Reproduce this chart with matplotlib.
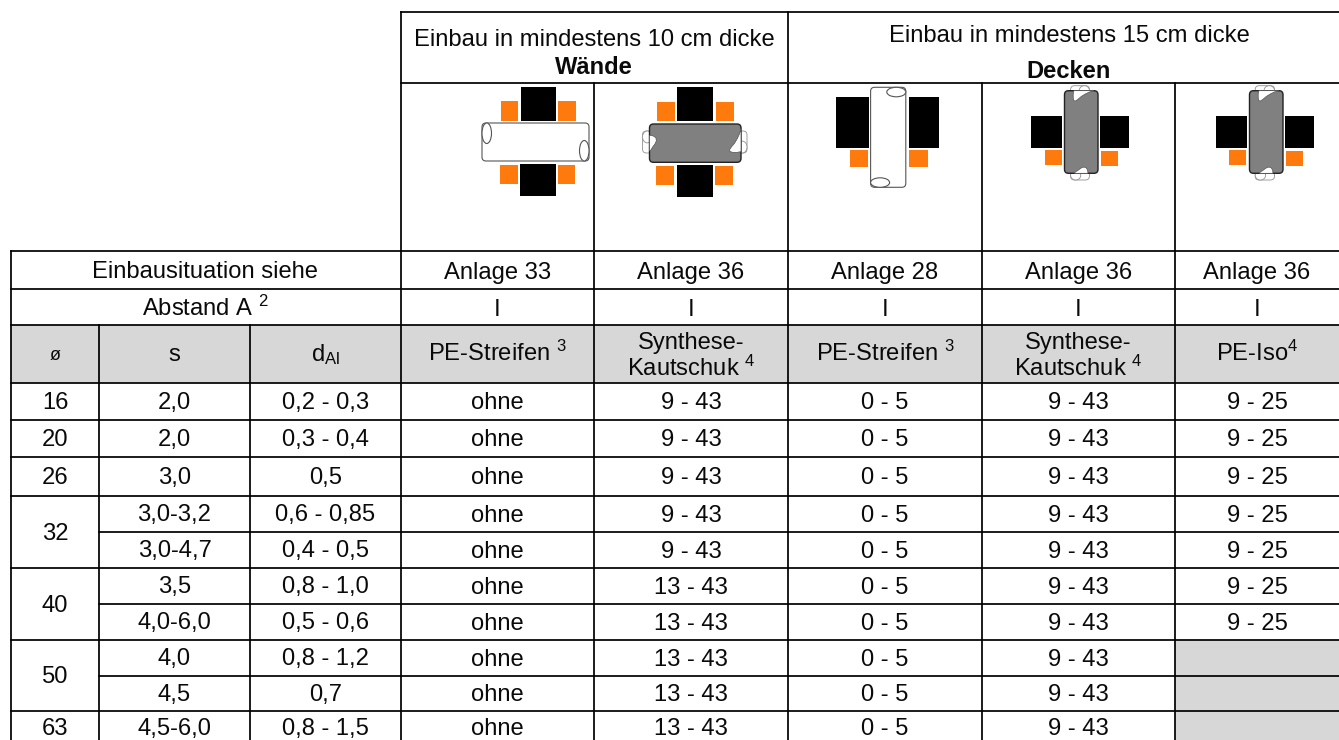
import matplotlib
matplotlib.use("Agg")
import matplotlib.pyplot as plt
from matplotlib.patches import Rectangle, Polygon, Ellipse, FancyBboxPatch

plt.rcParams['font.family'] = ['Liberation Sans', 'DejaVu Sans']
plt.rcParams['mathtext.fontset'] = 'custom'
plt.rcParams['mathtext.rm'] = 'Liberation Sans'
plt.rcParams['mathtext.default'] = 'regular'

# table content
diameters = ["16", "20", "26", "32", "40", "50", "63"]
diameter_spans = [1, 1, 1, 2, 2, 2, 1]
s_values = ["2,0", "2,0", "3,0", "3,0-3,2", "3,0-4,7", "3,5", "4,0-6,0", "4,0", "4,5", "4,5-6,0"]
d_al_values = ["0,2 - 0,3", "0,3 - 0,4", "0,5", "0,6 - 0,85", "0,4 - 0,5", "0,8 - 1,0",
               "0,5 - 0,6", "0,8 - 1,2", "0,7", "0,8 - 1,5"]
pe_wand = ["ohne"] * 10
kautschuk_wand = ["9 - 43"] * 5 + ["13 - 43"] * 5
pe_decke = ["0 - 5"] * 10
kautschuk_decke = ["9 - 43"] * 10
pe_iso = ["9 - 25"] * 7 + [""] * 3
anlagen = ["Anlage 33", "Anlage 36", "Anlage 28", "Anlage 36", "Anlage 36"]
abstand = ["I", "I", "I", "I", "I"]
col_heads = ["PE-Streifen $^{3}$", "Synthese-\nKautschuk $^{4}$", "PE-Streifen $^{3}$",
             "Synthese-\nKautschuk $^{4}$", "PE-Iso$^{4}$"]

# layout in pixels
col_x = [11, 99, 250, 401, 594, 788, 982, 1175, 1345]
row_y = [251, 289, 325, 383, 420, 457, 496, 532, 568, 604, 640, 676, 711, 748]
top_y, head_y = 12, 83
GREY = "#d7d7d7"
ORANGE = "#ff7a0d"
FS = 17.1

# notches in the grey sleeve as (along, across) fractions
BIG_BITE = [(1.0, 0.12), (0.985, 0.25), (0.96, 0.38), (0.93, 0.5), (0.895, 0.6), (0.875, 0.67),
            (0.88, 0.72), (0.91, 0.74), (0.96, 0.74), (1.0, 0.72)]
SMALL_BITE = [(0.0, 0.3), (0.04, 0.31), (0.07, 0.36), (0.075, 0.44), (0.06, 0.52), (0.035, 0.6),
              (0.015, 0.68), (0.0, 0.7)]

fig = plt.figure(figsize=(13.39, 7.4), dpi=100)
ax = fig.add_axes([0, 0, 1, 1])
ax.set_xlim(0, 1339)
ax.set_ylim(740, 0)
ax.axis("off")


def hline(y, x0, x1):
    ax.plot([x0, x1], [y, y], color="black", lw=1.25, solid_capstyle="projecting", zorder=5)


def vline(x, y0, y1):
    ax.plot([x, x], [y0, y1], color="black", lw=1.25, solid_capstyle="projecting", zorder=5)


def label(x, y, txt, **kw):
    kw.setdefault("fontsize", FS)
    ax.text(x, y, txt, ha="center", va="baseline", color="#0a0a0a", zorder=6, **kw)


def box(x0, y0, x1, y1, color):
    ax.add_patch(Rectangle((x0, y0), x1 - x0, y1 - y0, facecolor=color, edgecolor="none", zorder=2))


def rounded(x0, y0, x1, y1, r, fc, ec, lw, z):
    ax.add_patch(FancyBboxPatch((x0, y0), x1 - x0, y1 - y0, boxstyle=f"round,pad=0,rounding_size={r}",
                                facecolor=fc, edgecolor=ec, lw=lw, zorder=z))


def end_ellipses(x0, y0, x1, y1, vertical, ec, lw, z):
    # open tube ends: one half of each end shows the ellipse
    if vertical:
        w, h = (x1 - x0) * 0.54, min(9.5, (y1 - y0) * 0.1)
        first, second = (x1 - w / 2, y0 + h / 2), (x0 + w / 2, y1 - h / 2)
    else:
        w, h = min(9.5, (x1 - x0) * 0.1), (y1 - y0) * 0.54
        first, second = (x0 + w / 2, y0 + h / 2), (x1 - w / 2, y1 - h / 2)
    for c in (first, second):
        ax.add_patch(Ellipse(c, w, h, facecolor="white", edgecolor=ec, lw=lw, zorder=z))


def white_tube(x0, y0, x1, y1, vertical=False, ec="#555555", lw=0.8, z=3):
    rounded(x0, y0, x1, y1, 4, "white", ec, lw, z)
    end_ellipses(x0, y0, x1, y1, vertical, ec, lw, z)


def bite(x0, y0, x1, y1, pts, vertical, z):
    xy = []
    for a, b in pts:
        if vertical:
            xy.append((x0 + (1 - b) * (x1 - x0), y0 + (1 - a) * (y1 - y0)))
        else:
            xy.append((x0 + a * (x1 - x0), y0 + b * (y1 - y0)))
    ax.add_patch(Polygon(xy, closed=True, facecolor="white", edgecolor="#555555", lw=0.5, zorder=z, joinstyle="round"))


def grey_tube(sx0, sy0, sx1, sy1, wx0, wy0, wx1, wy1, vertical=False):
    white_tube(wx0, wy0, wx1, wy1, vertical, ec="#909090", lw=0.6, z=3)
    rounded(sx0, sy0, sx1, sy1, 4, "#808080", "#222222", 1.0, 4)
    bite(sx0, sy0, sx1, sy1, SMALL_BITE, vertical, 4.5)
    bite(sx0, sy0, sx1, sy1, BIG_BITE, vertical, 4.5)


# grey fills
box(col_x[0], row_y[2], col_x[-1], row_y[3], GREY)
box(col_x[7], row_y[10], col_x[-1], row_y[-1], GREY)

# grid
hline(top_y, col_x[3], col_x[-1])
hline(head_y, col_x[3], col_x[-1])
vline(col_x[3], top_y, row_y[-1])
vline(col_x[5], top_y, row_y[-1])
for x in [col_x[4], col_x[6], col_x[7]]:
    vline(x, head_y, row_y[-1])
vline(col_x[0], row_y[0], row_y[-1])
for x in col_x[1:3]:
    vline(x, row_y[2], row_y[-1])
for y in row_y[:4]:
    hline(y, col_x[0], col_x[-1])
n = 3
for span in diameter_spans:
    # the diameter column is merged over the rows of one size
    for k in range(1, span):
        hline(row_y[n + k], col_x[1], col_x[-1])
    n += span
    if n < len(row_y) - 1:
        hline(row_y[n], col_x[0], col_x[-1])

# head text
label(594, 46.5, "Einbau in mindestens 10 cm dicke")
label(594, 74, "Wände", fontweight="bold")
label(1069, 42.5, "Einbau in mindestens 15 cm dicke")
label(1069, 77.5, "Decken", fontweight="bold")

centers = [(col_x[i] + col_x[i + 1]) / 2 for i in range(3, 7)] + [1257]
mid = (col_x[0] + col_x[3]) / 2
label(mid - 1, 278.5, "Einbausituation siehe")
label(mid - 1, 316, "Abstand A $^{2}$")
for cx, a, b, h in zip(centers, anlagen, abstand, col_heads):
    label(cx, 278.5, a)
    label(cx, 316, b)
    if "\n" in h:
        h1, h2 = h.split("\n")
        label(cx, 349, h1)
        label(cx, 376, h2)
    else:
        label(cx, 361, h)

label((col_x[0] + col_x[1]) / 2, 360, "ø", fontsize=13)
label((col_x[1] + col_x[2]) / 2, 361, "s")
label((col_x[2] + col_x[3]) / 2, 361, "d$_{Al}$")


def base(i, span=1):
    if i + span == 10:
        return 735
    return (row_y[3 + i] + row_y[3 + i + span]) / 2 + 7.5


# body rows
n = 0
for d, span in zip(diameters, diameter_spans):
    label((col_x[0] + col_x[1]) / 2, base(n, span), d)
    n += span

columns = [s_values, d_al_values, pe_wand, kautschuk_wand, pe_decke, kautschuk_decke, pe_iso]
xs = [(col_x[1] + col_x[2]) / 2, (col_x[2] + col_x[3]) / 2] + centers
for cx, values in zip(xs, columns):
    for i, v in enumerate(values):
        label(cx, base(i), v)

# pictures, wall mounted
box(520.7, 86.7, 555.7, 121, "black")
box(500.7, 101, 518.3, 120.7, ORANGE)
box(558.3, 101, 576, 120.7, ORANGE)
white_tube(482, 123, 589, 161)
box(519.7, 163.7, 555.7, 196.3, "black")
box(500, 164.7, 518, 183.7, ORANGE)
box(557.7, 164.7, 575.3, 183.7, ORANGE)

box(677.3, 86.7, 712.7, 121, "black")
box(657.3, 101.7, 675, 121, ORANGE)
box(715.7, 101.7, 733.7, 121, ORANGE)
grey_tube(649.5, 124, 741, 162.3, 642.5, 131, 747, 153)
box(676.7, 164.7, 712.7, 197.3, "black")
box(656.3, 165.7, 674.3, 184.7, ORANGE)
box(715.3, 165.7, 733.3, 184.7, ORANGE)

# pictures, ceiling mounted
box(836, 97.3, 869, 147.7, "black")
box(908.7, 97.3, 939.4, 147.7, "black")
box(850, 150, 868, 166.7, ORANGE)
box(909.4, 150.3, 927.6, 167, ORANGE)
white_tube(870.6, 87.3, 905.8, 187.3, vertical=True)

for left, right, oleft, oright, p0, p1, w0, w1 in [
        ((1031.3, 1062), (1099.8, 1128.7), (1044.5, 1061.6), (1100.5, 1117.6), 1064.5, 1098, 1070.6, 1089.4),
        ((1216, 1247), (1285, 1313.7), (1229.2, 1246.3), (1285.5, 1302.6), 1249.5, 1283, 1255.2, 1274.5)]:
    box(left[0], 116, left[1], 148, "black")
    box(right[0], 116, right[1], 148, "black")
    box(oleft[0], 150, oleft[1], 165.3, ORANGE)
    box(oright[0], 150.7, oright[1], 166, ORANGE)
    grey_tube(p0, 90.7, p1, 173.3, w0, 85.7, w1, 180, vertical=True)

fig.savefig("out.png", dpi=100)
